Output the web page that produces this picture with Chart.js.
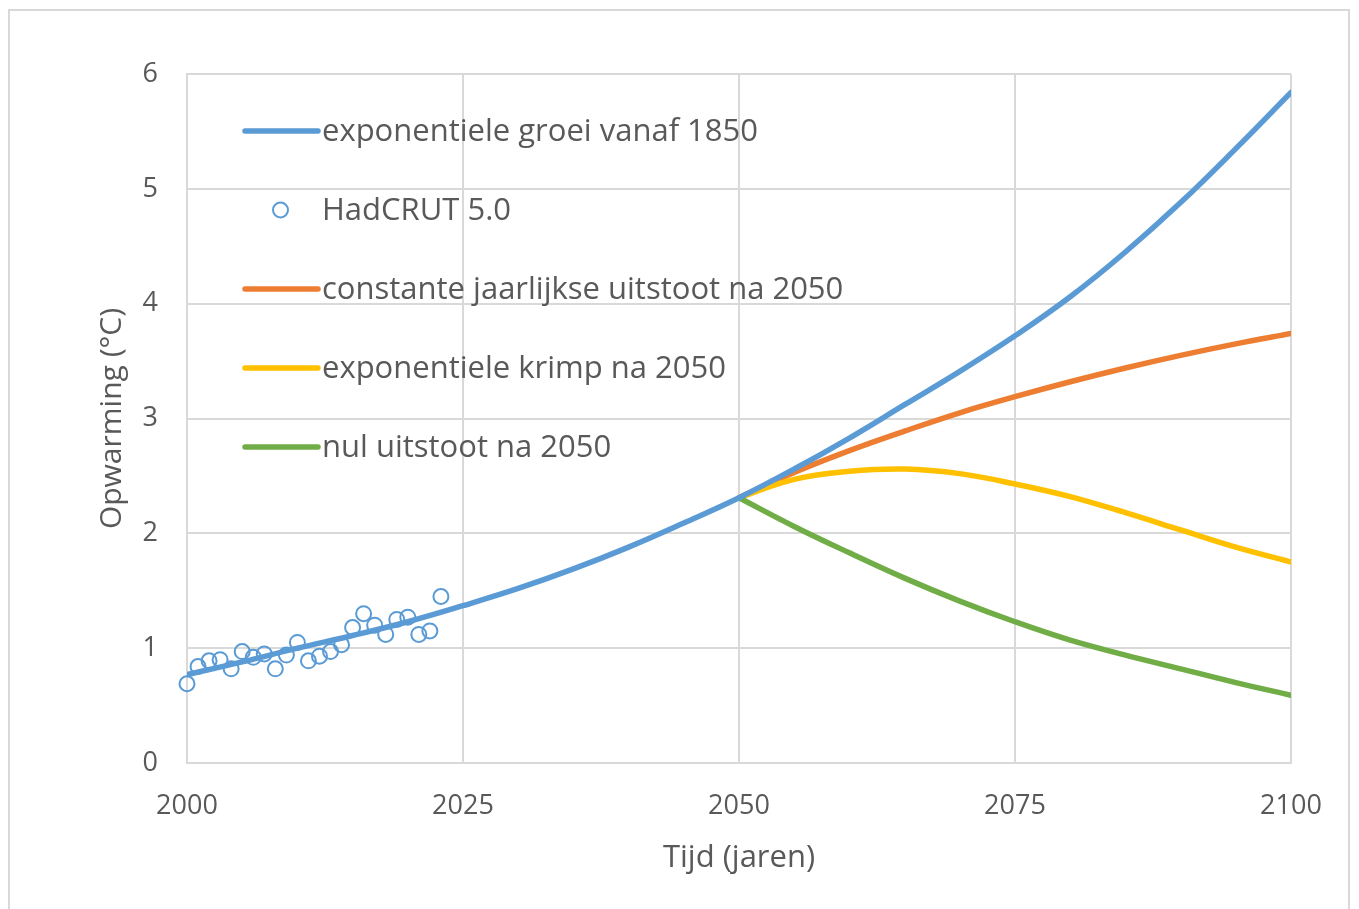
<!DOCTYPE html>
<html lang="nl">
<head>
<meta charset="utf-8">
<title>Opwarming scenario's</title>
<script src="https://cdn.jsdelivr.net/npm/chart.js@4.4.1/dist/chart.umd.min.js"></script>
<style>
  html, body { margin: 0; padding: 0; background: #fff; }
  #wrap { position: relative; width: 1359px; height: 909px; overflow: hidden; }
  #kader { position: absolute; left: 8px; top: 9px; width: 1342px; height: 920px; border: 2px solid #d9d9d9; box-sizing: border-box; pointer-events: none; }
  canvas { position: absolute; left: 0; top: 0; }
</style>
</head>
<body>
<div id="wrap">
  <div id="kader"></div>
  <canvas id="grafiek" width="1359" height="909"></canvas>
</div>
<script>
const jaren = [2000, 2005, 2010, 2015, 2020, 2025, 2030, 2035, 2040, 2045, 2050,
  2055, 2060, 2065, 2070, 2075, 2080, 2085, 2090, 2095, 2100];
const groei = [0.77, 0.88, 1.00, 1.11, 1.23, 1.37, 1.52, 1.69, 1.88, 2.09, 2.31,
  2.56, 2.83, 3.12, 3.41, 3.72, 4.06, 4.45, 4.88, 5.35, 5.84];

const jarenNa2050 = [2050, 2055, 2060, 2065, 2070, 2075, 2080, 2085, 2090, 2095, 2100];
const constant = [2.31, 2.53, 2.72, 2.89, 3.05, 3.19, 3.32, 3.44, 3.55, 3.65, 3.74];
const krimp = [2.31, 2.47, 2.54, 2.56, 2.52, 2.43, 2.32, 2.18, 2.03, 1.88, 1.75];
const nul = [2.31, 2.06, 1.83, 1.61, 1.41, 1.23, 1.07, 0.94, 0.82, 0.70, 0.59];

// HadCRUT 5.0 metingen
const hadJaren = [2000, 2001, 2002, 2003, 2004, 2005, 2006, 2007, 2008, 2009, 2010, 2011,
  2012, 2013, 2014, 2015, 2016, 2017, 2018, 2019, 2020, 2021, 2022, 2023];
const hadWaarden = [0.69, 0.84, 0.89, 0.90, 0.82, 0.97, 0.92, 0.95, 0.82, 0.94, 1.05, 0.89,
  0.93, 0.97, 1.03, 1.18, 1.30, 1.20, 1.12, 1.25, 1.27, 1.12, 1.15, 1.45];

const xTicks = [2000, 2025, 2050, 2075, 2100];
const yTicks = [0, 1, 2, 3, 4, 5, 6];

const labels = [
  'exponentiele groei vanaf 1850',
  'HadCRUT 5.0',
  'constante jaarlijkse uitstoot na 2050',
  'exponentiele krimp na 2050',
  'nul uitstoot na 2050',
];

const BLAUW = '#5b9bd5';
const ORANJE = '#ed7d31';
const GEEL = '#ffc000';
const GROEN = '#70ad47';
const GRIJS = '#d9d9d9';
const TEKST = '#595959';
const FONT = "'Open Sans', sans-serif";

const paren = (xs, ys) => xs.map((x, i) => ({ x: x, y: ys[i] }));

const lijn = (label, data, kleur, volgorde) => ({
  label: label,
  data: data,
  borderColor: kleur,
  backgroundColor: kleur,
  borderWidth: 5.5,
  borderCapStyle: 'round',
  pointRadius: 0,
  tension: 0.4,
  fill: false,
  order: volgorde,
});

// legenda binnen het plotvlak
const legendaPlugin = {
  id: 'legendaBinnen',
  afterDraw(chart) {
    const ctx = chart.ctx;
    const x0 = 245, x1 = 318, tx = 322;
    const y0 = 131, stap = 79;
    ctx.save();
    ctx.font = '31px ' + FONT;
    ctx.textBaseline = 'middle';
    chart.data.datasets.forEach((ds, i) => {
      const y = y0 + i * stap;
      if (ds.showLine === false) {
        ctx.beginPath();
        ctx.arc((x0 + x1) / 2 - 1, y, 7.5, 0, Math.PI * 2);
        ctx.strokeStyle = ds.borderColor;
        ctx.lineWidth = 2;
        ctx.stroke();
      } else {
        ctx.beginPath();
        ctx.moveTo(x0, y);
        ctx.lineTo(x1, y);
        ctx.strokeStyle = ds.borderColor;
        ctx.lineWidth = 5.5;
        ctx.lineCap = 'round';
        ctx.stroke();
      }
      ctx.fillStyle = TEKST;
      ctx.fillText(ds.label, tx, y + 1);
    });
    ctx.restore();
  },
};

new Chart(document.getElementById('grafiek'), {
  type: 'line',
  data: {
    datasets: [
      lijn(labels[0], paren(jaren, groei), BLAUW, 1),
      {
        label: labels[1],
        data: paren(hadJaren, hadWaarden),
        showLine: false,
        borderColor: BLAUW,
        backgroundColor: 'rgba(255,255,255,0)',
        pointRadius: 7.5,
        pointBorderWidth: 2,
        pointStyle: 'circle',
        clip: false,
        order: 5,
      },
      lijn(labels[2], paren(jarenNa2050, constant), ORANJE, 4),
      lijn(labels[3], paren(jarenNa2050, krimp), GEEL, 3),
      lijn(labels[4], paren(jarenNa2050, nul), GROEN, 2),
    ],
  },
  options: {
    responsive: false,
    animation: false,
    events: [],
    layout: { padding: { left: 0, top: 74, right: 68, bottom: 0 } },
    plugins: {
      legend: { display: false },
      tooltip: { enabled: false },
    },
    scales: {
      x: {
        type: 'linear',
        min: 2000,
        max: 2100,
        afterBuildTicks: s => { s.ticks = xTicks.map(v => ({ value: v })); },
        afterFit: s => { s.height = 146; },
        ticks: {
          color: TEKST,
          font: { family: FONT, size: 27 },
          padding: 27,
          maxRotation: 0,
          callback: v => String(v),
        },
        grid: { color: GRIJS, lineWidth: 2, drawTicks: false },
        border: { color: GRIJS, width: 2 },
        title: {
          display: true,
          text: 'Tijd (jaren)',
          color: TEKST,
          font: { family: FONT, size: 31 },
          padding: { top: 0, bottom: 32 },
        },
      },
      y: {
        min: 0,
        max: 6,
        afterBuildTicks: s => { s.ticks = yTicks.map(v => ({ value: v })); },
        afterFit: s => { s.width = 187; },
        ticks: {
          color: TEKST,
          font: { family: FONT, size: 27 },
          padding: 29,
        },
        grid: { color: GRIJS, lineWidth: 2, drawTicks: false },
        border: { color: GRIJS, width: 2 },
        title: {
          display: true,
          text: 'Opwarming (°C)',
          color: TEKST,
          font: { family: FONT, size: 30 },
          padding: { top: 94, bottom: 0 },
        },
      },
    },
  },
  plugins: [legendaPlugin],
});
</script>
</body>
</html>
